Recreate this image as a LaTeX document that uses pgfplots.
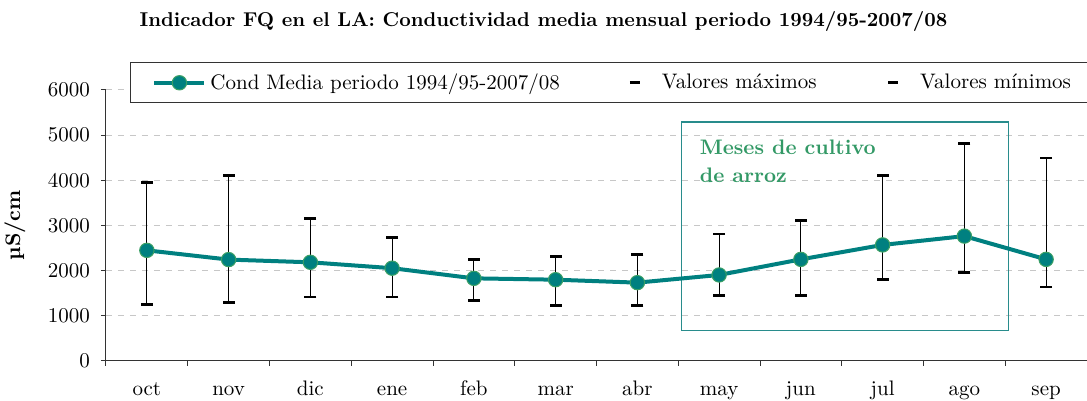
\documentclass[border=0pt]{standalone}
\usepackage{pgfplots}
\usepackage{pgfplotstable}
\pgfplotsset{compat=1.18}
\definecolor{tealline}{RGB}{0,128,128}
\definecolor{markedge}{RGB}{60,160,100}
\definecolor{ricegreen}{RGB}{51,153,102}
\definecolor{ricebox}{RGB}{40,140,140}
\pgfplotstableread{
x mean max min
0 2450 3955 1255
1 2245 4105 1290
2 2185 3150 1415
3 2055 2740 1415
4 1830 2250 1335
5 1800 2320 1220
6 1735 2360 1220
7 1905 2810 1455
8 2250 3115 1450
9 2570 4105 1800
10 2765 4820 1965
11 2250 4495 1640
}\datatable
\begin{document}
\begin{tikzpicture}[font=\fontsize{10.5}{12}\selectfont]
\begin{axis}[
  name=ax,
  scale only axis,
  width=490.5pt, height=135.5pt,
  xmin=-0.5, xmax=11.5,
  ymin=0, ymax=6000,
  axis x line*=bottom, axis y line*=left,
  axis line style={black!80, line width=0.5pt},
  xtick={-0.5,0.5,1.5,2.5,3.5,4.5,5.5,6.5,7.5,8.5,9.5,10.5,11.5},
  xticklabels={oct,nov,dic,ene,feb,mar,abr,may,jun,jul,ago,sep},
  x tick label as interval,
  ytick={0,1000,...,6000},
  tick align=outside,
  major tick length=2.5pt,
  tick style={black!80, line width=0.5pt},
  ymajorgrids,
  grid style={dashed, black!22, line width=0.5pt},
  /pgf/number format/assume math mode=true,
  /pgf/number format/1000 sep={},
  tick label style={font=\fontsize{10.5}{12}\selectfont},
  xticklabel style={anchor=base, yshift=-15pt},
  yticklabel style={xshift=-2pt},
  ylabel={\textbf{µS/cm}},
  ylabel style={at={(axis description cs:-0.093,0.5)}, anchor=center, font=\fontsize{10.5}{12}\selectfont},
  title={\textbf{Indicador FQ en el LA: Conductividad media mensual periodo 1994/95-2007/08}},
  title style={at={(axis description cs:0.446,1.207)}, anchor=center, font=\fontsize{10}{12}\selectfont},
  legend columns=3,
  legend cell align=left,
  legend style={at={(axis description cs:0.0245,1.1033)}, anchor=north west,
    draw=none, fill=none, font=\fontsize{10.5}{12}\selectfont,
    inner xsep=11pt, inner ysep=3.5pt,
    /tikz/every even column/.append style={column sep=30pt}},
  clip=false,
]
\addlegendimage{legend image code/.code={
  \draw[tealline, line width=2pt] (0pt,0pt) -- (25pt,0pt);
  \fill[tealline, draw=markedge, line width=0.5pt] (12.5pt,0pt) circle (3.6pt);}}
\addlegendentry{\makebox[177pt][l]{Cond Media periodo 1994/95-2007/08}}
% legend frame, running past the right edge as in the reference
\filldraw[fill=white, draw=black!80, line width=0.5pt]
  (axis description cs:1.05,1.1033) -- (axis description cs:0.0245,1.1033)
  -- (axis description cs:0.0245,0.9557) -- (axis description cs:1.05,0.9557);
% rice-growing months box
\draw[ricebox, line width=0.8pt] (axis cs:6.54,671) rectangle (axis cs:10.54,5298);
\node[anchor=north west, inner sep=0pt, align=left, text=ricegreen,
  font=\fontsize{10.5}{14}\selectfont\bfseries] at (axis cs:6.76,4900)
  {Meses de cultivo\\de arroz};
% vertical high-low lines
\addplot[forget plot, draw=none, mark=none,
  error bars/.cd, y dir=both, y explicit, error mark=none,
  error bar style={black, line width=0.5pt}]
  table[x=x, y=mean, y error plus expr=\thisrow{max}-\thisrow{mean},
        y error minus expr=\thisrow{mean}-\thisrow{min}] {\datatable};
\addplot[only marks, mark=-, mark size=3pt, black, mark options={line width=1.4pt},
  legend image code/.code={\draw[black, line width=1.4pt] (0pt,0pt) -- (5pt,0pt); \path[draw=none] (0pt,0pt) -- (14pt,0pt);}]
  table[x=x, y=max] {\datatable};
\addlegendentry{\makebox[80.5pt][l]{Valores máximos}}
\addplot[only marks, mark=-, mark size=3pt, black, mark options={line width=1.4pt},
  legend image code/.code={\draw[black, line width=1.4pt] (0pt,0pt) -- (5pt,0pt); \path[draw=none] (0pt,0pt) -- (14pt,0pt);}]
  table[x=x, y=min] {\datatable};
\addlegendentry{Valores mínimos}
\addplot[forget plot, tealline, line width=2pt, mark=*, mark size=3.6pt,
  mark options={fill=tealline, draw=markedge, line width=0.5pt}]
  table[x=x, y=mean] {\datatable};
\end{axis}
\pgfresetboundingbox
\path[use as bounding box] ([shift={(-53pt,-20pt)}]ax.south west) rectangle ([shift={(0pt,45pt)}]ax.north east);
\end{tikzpicture}
\end{document}
